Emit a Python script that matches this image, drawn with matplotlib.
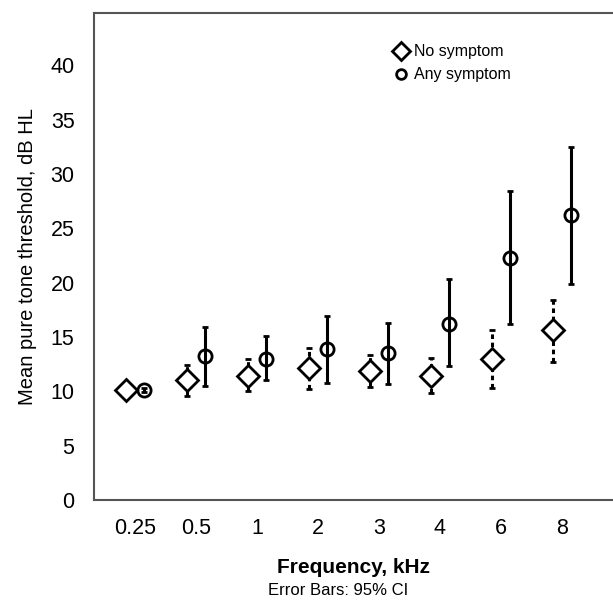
import numpy as np
import matplotlib
matplotlib.use("Agg")
import matplotlib.pyplot as plt
from matplotlib.lines import Line2D

plt.rcParams["font.family"] = ["Liberation Sans", "DejaVu Sans"]

# data
freqs = ["0.25", "0.5", "1", "2", "3", "4", "6", "8"]

no_mean = [10.1, 11.0, 11.4, 12.1, 11.9, 11.4, 13.0, 15.6]
no_low = [9.9, 9.6, 10.0, 10.2, 10.4, 9.8, 10.3, 12.7]
no_high = [10.3, 12.4, 13.0, 14.0, 13.3, 13.1, 15.6, 18.4]

any_mean = [10.1, 13.2, 13.0, 13.9, 13.5, 16.2, 22.3, 26.2]
any_low = [9.9, 10.5, 11.0, 10.8, 10.7, 12.3, 16.2, 19.9]
any_high = [10.3, 15.9, 15.1, 16.9, 16.3, 20.3, 28.4, 32.5]

x = np.arange(len(freqs))
off = 0.15

fig = plt.figure(figsize=(6.13, 6.14), dpi=100)
ax = fig.add_axes([0.1533, 0.1857, 0.8467, 0.7931])

no_mean = np.array(no_mean)
any_mean = np.array(any_mean)
no_err = [no_mean - np.array(no_low), np.array(no_high) - no_mean]
any_err = [any_mean - np.array(any_low), np.array(any_high) - any_mean]

# No symptom: diamonds with dashed bars
eb1 = ax.errorbar(x - off, no_mean, yerr=no_err, fmt="D", ms=11.5, mfc="white",
                  mec="black", mew=2, ecolor="black", elinewidth=2.2,
                  capsize=2.5, capthick=2.5, zorder=3)
eb1[2][0].set_linestyle((0, (1.5, 1.2)))

# Any symptom: circles with solid bars
ax.errorbar(x + off, any_mean, yerr=any_err, fmt="o", ms=9.5, mfc="none",
            mec="black", mew=2, ecolor="black", elinewidth=2.2,
            capsize=2.5, capthick=2.5, zorder=3)

ax.set_xlim(-0.67, 7.84)
ax.set_ylim(0, 44.8)
ax.set_xticks(x)
ax.set_xticklabels(freqs)
ax.set_yticks(np.arange(0, 41, 5))
ax.tick_params(length=0, labelsize=15.5)
ax.tick_params(axis="x", pad=13)
ax.tick_params(axis="y", pad=14)

for s in ["left", "bottom", "top"]:
    ax.spines[s].set_color("#555555")
    ax.spines[s].set_linewidth(1.5)
ax.spines["right"].set_visible(False)

ax.set_xlabel("Frequency, kHz", fontsize=15, fontweight="bold", labelpad=14)
ax.set_ylabel("Mean pure tone threshold, dB HL", fontsize=14.5, labelpad=10)

handles = [
    Line2D([], [], marker="D", ls="none", ms=9, mfc="white", mec="black", mew=2),
    Line2D([], [], marker="o", ls="none", ms=7, mfc="white", mec="black", mew=2),
]
ax.legend(handles, ["No symptom", "Any symptom"], loc="upper right",
          bbox_to_anchor=(0.83, 0.965), frameon=False, fontsize=11.5,
          handletextpad=0.2, handlelength=1.2, labelspacing=0.5)

fig.text(0.552, 0.038, "Error Bars: 95% CI", ha="center", va="center", fontsize=12)

fig.savefig("out.png", dpi=100)
